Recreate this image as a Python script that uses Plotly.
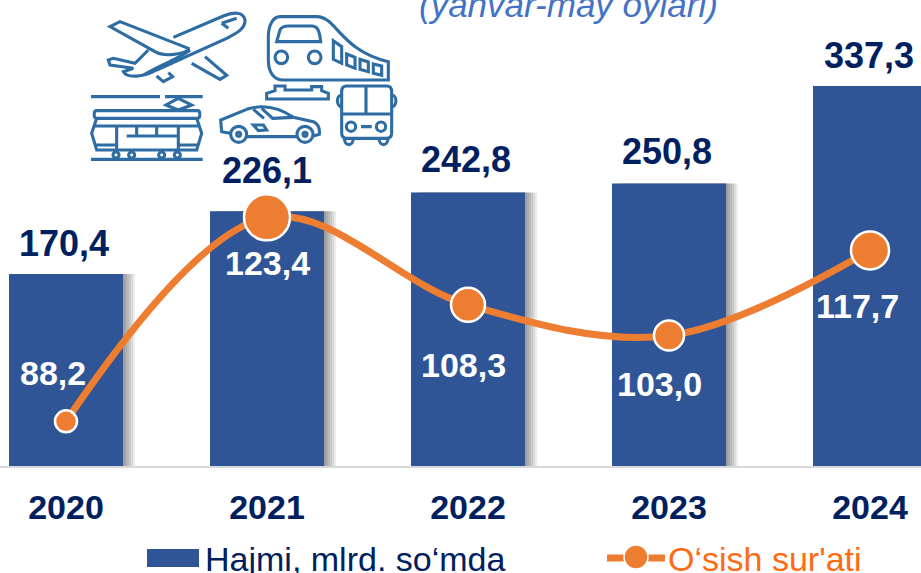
import re
import plotly.graph_objects as go

years = ["2020", "2021", "2022", "2023", "2024"]
volume = [170.4, 226.1, 242.8, 250.8, 337.3]
growth = [88.2, 123.4, 108.3, 103.0, 117.7]
marker_sizes = [22, 46, 34, 30, 38]
volume_label_shift = [31, 41, 33, 32, 31]
volume_label_xshift = [-2, 0, -2, -2, -1]
growth_label_shift = [48, -46, -60, -48, -56]
growth_label_xshift = [-13, 0, -5, -10, -13]
series_names = ["Hajmi, mlrd. so‘mda", "O‘sish sur'ati"]
subtitle = "(yanvar-may oylari)"

W, H, PLOT_H = 921, 573, 466
NAVY, BLUE, ORANGE, ICON = "#002060", "#2f5597", "#ed7d31", "#2e6da4"
FONT = "Liberation Sans"
bar_w = 114 / 201


def fmt(v):
    return f"{v:.1f}".replace(".", ",")


fig = go.Figure()
for shift in (12, 10, 8, 6, 4, 2):
    fig.add_bar(x=years, y=volume, width=bar_w, offset=-bar_w / 2 + shift / 201,
                marker=dict(color="rgba(0,0,0,0.075)", line_width=0),
                showlegend=False, hoverinfo="skip")
fig.add_bar(x=years, y=volume, width=bar_w, offset=-bar_w / 2, name=series_names[0],
            marker=dict(color=BLUE, line_width=0), showlegend=False)
fig.add_scatter(x=years, y=growth, yaxis="y2", name=series_names[1], mode="lines+markers",
                line=dict(color=ORANGE, width=7, shape="spline", smoothing=1.0),
                marker=dict(color=ORANGE, opacity=1, size=marker_sizes, line=dict(color="white", width=2.5)),
                showlegend=False)

annotations = []
for i, y in enumerate(years):
    annotations.append(dict(x=i, y=volume[i], xref="x", yref="y", text=f"<b>{fmt(volume[i])}</b>",
                            showarrow=False, yshift=volume_label_shift[i], xshift=volume_label_xshift[i],
                            yanchor="middle", font=dict(family=FONT, size=36, color=NAVY)))
    annotations.append(dict(x=i, y=growth[i], xref="x", yref="y2", text=f"<b>{fmt(growth[i])}</b>",
                            showarrow=False, yshift=growth_label_shift[i], xshift=growth_label_xshift[i],
                            yanchor="middle", font=dict(family=FONT, size=34, color="white")))


def px(x, y):
    return x / W, 1 - y / PLOT_H


annotations.append(dict(x=px(568, 0)[0], y=px(0, 5)[1], xref="paper", yref="paper", text=f"<i>{subtitle}</i>",
                        showarrow=False, yanchor="middle", xanchor="center",
                        font=dict(family=FONT, size=35, color="#4472c4")))
annotations.append(dict(x=px(203, 0)[0], y=px(0, 559)[1], xref="paper", yref="paper", text=series_names[0],
                        showarrow=False, xanchor="left", yanchor="middle",
                        font=dict(family=FONT, size=34, color=NAVY)))
annotations.append(dict(x=px(666, 0)[0], y=px(0, 559)[1], xref="paper", yref="paper", text=series_names[1],
                        showarrow=False, xanchor="left", yanchor="middle",
                        font=dict(family=FONT, size=34, color="#ff6a13")))


def zpath(d):
    """Icon path given in zoom coordinates (3x, origin at 80,0) converted to paper space."""
    nums = iter(re.findall(r"[A-Z]|-?\d+\.?\d*", d))
    out = []
    for tok in nums:
        if tok.isalpha():
            out.append(tok)
        else:
            x = 80 + float(tok) / 3
            y = float(next(nums)) / 3
            a, b = px(x, y)
            out.append(f"{a:.5f},{b:.5f}")
    return " ".join(out)


def circ(cx, cy, r):
    k = 0.5523 * r
    return (f"M {cx+r} {cy} C {cx+r} {cy+k} {cx+k} {cy+r} {cx} {cy+r} C {cx-k} {cy+r} {cx-r} {cy+k} {cx-r} {cy} "
            f"C {cx-r} {cy-k} {cx-k} {cy-r} {cx} {cy-r} C {cx+k} {cy-r} {cx+r} {cy-k} {cx+r} {cy} Z")


icon_paths = [
    # plane
    "M 280 112 L 430 48 C 460 35 490 35 495 60 C 497 85 470 100 440 115 L 230 210 C 190 232 140 235 130 215 L 160 205 L 90 195 L 85 180 L 100 175 L 165 190 L 205 150",
    "M 325 145 L 120 65 L 90 80 L 225 155 C 250 170 300 165 325 150 Z",
    "M 335 190 L 420 238 L 440 226 L 375 170",
    "M 230 228 L 250 245 L 278 230 L 265 218",
    "M 425 70 L 470 55 M 425 70 L 445 85",
    "M 190 225 C 250 190 300 175 330 150",
    # train
    "M 600 50 L 710 50 C 770 50 780 150 925 185 L 925 240 L 610 240 C 580 240 565 215 565 180 L 565 110 C 565 75 580 50 600 50 Z",
    "M 590 125 L 600 90 C 605 80 615 78 625 78 L 695 78 C 710 78 718 85 722 125 Z",
    circ(604, 172, 19), circ(704, 172, 19),
    "M 760 122 L 785 140 L 785 190 L 760 178 Z",
    "M 800 162 L 825 172 L 825 205 L 800 195 Z",
    "M 840 178 L 865 186 L 865 215 L 840 208 Z",
    "M 880 192 L 905 198 L 905 226 L 880 220 Z",
    "M 560 297 L 745 297 L 745 280 L 725 272 L 725 260 L 695 260 L 695 270 L 615 270 L 615 258 L 585 258 L 585 272 L 560 280 Z",
    # bus
    "M 800 258 L 920 258 C 930 258 935 265 935 275 L 935 400 C 935 410 930 415 920 415 L 800 415 C 790 415 785 410 785 400 L 785 275 C 785 265 790 258 800 258 Z",
    "M 858 260 L 858 342 M 785 342 L 935 342 M 843 380 L 875 380",
    circ(813, 380, 14), circ(903, 380, 14),
    "M 793 415 C 793 440 820 440 820 415 M 897 415 C 897 440 924 440 924 415",
    "M 785 285 C 768 285 768 320 785 320 M 935 285 C 952 285 952 320 935 320",
    # tram
    "M 33 290 L 240 290 M 255 290 L 368 290 M 33 478 L 368 478",
    "M 295 295 L 335 315 L 295 330 L 258 315 Z",
    "M 50 332 L 352 332 C 362 332 362 355 352 355 L 50 355 C 40 355 40 332 50 332 Z",
    "M 50 355 L 35 400 L 50 450 L 350 450 L 365 400 L 350 355",
    "M 42 378 L 358 378 M 110 378 L 110 450 M 170 378 L 170 408 M 230 378 L 230 408 M 295 378 L 295 450",
    "M 140 408 L 295 408 M 44 435 L 110 435 M 295 435 L 356 435",
    circ(108, 465, 9), circ(155, 465, 9), circ(245, 465, 9), circ(292, 465, 9),
    # car
    "M 450 400 L 425 395 L 422 360 L 500 328 C 540 315 590 318 640 352 L 700 365 C 715 372 720 385 718 403 L 700 408",
    "M 650 410 L 500 410",
    circ(476, 403, 24), circ(675, 403, 24), circ(476, 403, 6), circ(675, 403, 6),
    "M 520 328 L 552 355 M 545 325 L 578 355 L 640 352",
    "M 520 375 L 550 375 L 560 390 L 535 392 Z",
]
shapes = [dict(type="path", path=zpath(p), xref="paper", yref="paper", layer="above",
               line=dict(color=ICON, width=3.1)) for p in icon_paths]

# legend swatches
x0, y0 = px(147, 549)
x1, y1 = px(199, 567)
shapes.append(dict(type="rect", xref="paper", yref="paper", x0=x0, y0=y0, x1=x1, y1=y1,
                   fillcolor=BLUE, line_width=0))
x0, y0 = px(607, 558)
x1, y1 = px(665, 558)
shapes.append(dict(type="line", xref="paper", yref="paper", x0=x0, y0=y0, x1=x1, y1=y1,
                   line=dict(color=ORANGE, width=7)))
x0, y0 = px(624, 545)
x1, y1 = px(648, 569)
shapes.append(dict(type="circle", xref="paper", yref="paper", x0=x0, y0=y0, x1=x1, y1=y1,
                   fillcolor=ORANGE, line=dict(color="white", width=1.5)))

hidden = dict(showgrid=False, zeroline=False, showline=False, showticklabels=False, ticks="")
fig.update_layout(
    width=W, height=H, margin=dict(l=0, r=0, t=0, b=H - PLOT_H, pad=0),
    paper_bgcolor="white", plot_bgcolor="white", barmode="overlay", showlegend=False,
    font=dict(family=FONT),
    xaxis=dict(type="category", categoryorder="array", categoryarray=years,
               range=[-66 / 201, (W - 66) / 201], showgrid=False, zeroline=False,
               showline=True, linecolor="#d9d9d9", linewidth=2, ticks="", ticklabelstandoff=10,
               tickfont=dict(family=FONT, size=34, color=NAVY, weight=700)),
    yaxis=dict(range=[0, PLOT_H / 1.1266], **hidden),
    yaxis2=dict(range=[80.5, 160.9], overlaying="y", side="right", **hidden),
    annotations=annotations, shapes=shapes,
)
fig.write_html("out.html", post_script="document.body.style.margin='0';",
               config=dict(displayModeBar=False))
